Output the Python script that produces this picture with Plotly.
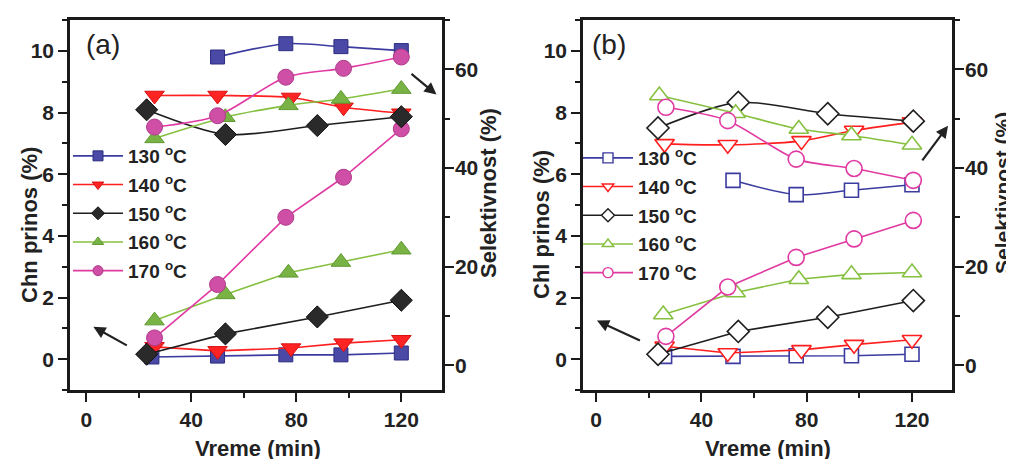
import plotly.graph_objects as go

# ---------------- data ----------------
temps = ["130", "140", "150", "160", "170"]

# Panel (a): Chn yield (left axis) and selectivity (right axis)
a_sel_x = {
    "130": [50, 76, 97, 120],
    "140": [26, 50, 78, 98, 120],
    "150": [23, 53, 88, 120],
    "160": [26, 53, 77, 97, 120],
    "170": [26, 50, 76, 98, 120],
}
a_sel = {
    "130": [62.5, 65.2, 64.6, 63.8],
    "140": [54.7, 54.7, 54.3, 52.3, 51.1],
    "150": [51.8, 46.8, 48.6, 50.4],
    "160": [46.0, 50.3, 52.7, 54.0, 56.0],
    "170": [48.3, 50.6, 58.4, 60.2, 62.5],
}
a_yld_x = {
    "130": [25, 50, 76, 97, 120],
    "140": [26, 50, 78, 98, 120],
    "150": [23, 53, 88, 120],
    "160": [26, 53, 77, 97, 120],
    "170": [26, 50, 76, 98, 120],
}
a_yld = {
    "130": [0.07, 0.1, 0.14, 0.14, 0.2],
    "140": [0.4, 0.27, 0.36, 0.52, 0.63],
    "150": [0.16, 0.82, 1.37, 1.91],
    "160": [1.25, 2.1, 2.8, 3.15, 3.55],
    "170": [0.69, 2.42, 4.6, 5.9, 7.47],
}

# Panel (b): Chl yield (left axis) and selectivity (right axis)
b_sel_x = {
    "130": [52, 76, 97, 120],
    "140": [26, 50, 78, 98, 120],
    "150": [23.5, 54, 88, 120.5],
    "160": [24, 53, 77, 97, 120],
    "170": [26.5, 50, 76, 98, 120.5],
}
b_sel = {
    "130": [37.5, 34.6, 35.5, 36.6],
    "140": [44.9, 44.7, 45.5, 47.6, 49.3],
    "150": [48.1, 53.3, 51.0, 49.5],
    "160": [54.7, 51.1, 47.9, 46.6, 44.7],
    "170": [52.3, 49.6, 41.8, 39.9, 37.5],
}
b_yld_x = {
    "130": [26, 52, 76, 97, 120],
    "140": [26, 50, 78, 98, 120],
    "150": [23.5, 54, 88, 120.5],
    "160": [25.5, 53, 77, 97, 120],
    "170": [26.5, 50, 76, 98, 120.5],
}
b_yld = {
    "130": [0.09, 0.09, 0.11, 0.11, 0.16],
    "140": [0.42, 0.2, 0.3, 0.47, 0.63],
    "150": [0.16, 0.9, 1.36, 1.9],
    "160": [1.45, 2.16, 2.59, 2.75, 2.81],
    "170": [0.74, 2.34, 3.3, 3.9, 4.5],
}

x_ticks = [0, 40, 80, 120]
yl_ticks = [0, 2, 4, 6, 8, 10]
yr_ticks = [0, 20, 40, 60]

# ---------------- styles ----------------
line_col = {"130": "#3b3ba0", "140": "#ff1f1f", "150": "#1e1e1e", "160": "#86c040", "170": "#e03aa2"}
fill_col = {"130": "#4a4aa6", "140": "#ff2424", "150": "#2a2a2a", "160": "#79b346", "170": "#cf4fa6"}
edge_col = {"130": "#2c2c80", "140": "#d81010", "150": "#111111", "160": "#5f9a30", "170": "#b03a8a"}
symbol = {"130": "square", "140": "triangle-down", "150": "diamond", "160": "triangle-up", "170": "circle"}
msize = {"130": 14, "140": 17, "150": 17, "160": 17, "170": 16}

FONT = "Liberation Sans, Arial, sans-serif"

fig = go.Figure()


def add_series(xd, yd, t, xa, ya, filled, smooth):
    if filled:
        mk = dict(symbol=symbol[t], size=msize[t], color=fill_col[t],
                  line=dict(color=edge_col[t], width=1))
    else:
        mk = dict(symbol=symbol[t], size=msize[t], color="white",
                  line=dict(color=line_col[t], width=1.6))
    fig.add_trace(go.Scatter(
        x=xd, y=yd, xaxis=xa, yaxis=ya, mode="lines+markers",
        line=dict(color=line_col[t], width=1.6,
                  shape="spline" if smooth else "linear", smoothing=0.8),
        marker=mk, showlegend=False, hoverinfo="skip"))


for t in temps:
    add_series(a_sel_x[t], a_sel[t], t, "x", "y2", True, True)
    add_series(a_yld_x[t], a_yld[t], t, "x", "y", True, False)
    add_series(b_sel_x[t], b_sel[t], t, "x2", "y4", False, True)
    add_series(b_yld_x[t], b_yld[t], t, "x2", "y3", False, False)

# legend-only entries
for t in temps:
    fig.add_trace(go.Scatter(
        x=[None], y=[None], xaxis="x", yaxis="y", mode="lines+markers",
        name=t + " <sup>o</sup>C", legend="legend", legendgroup="a" + t,
        line=dict(color=line_col[t], width=1.6),
        marker=dict(symbol=symbol[t], size=10, color=fill_col[t],
                    line=dict(color=edge_col[t], width=1))))
    fig.add_trace(go.Scatter(
        x=[None], y=[None], xaxis="x2", yaxis="y3", mode="lines+markers",
        name=t + " <sup>o</sup>C", legend="legend2", legendgroup="b" + t,
        line=dict(color=line_col[t], width=1.6),
        marker=dict(symbol=symbol[t], size=10, color="white",
                    line=dict(color=line_col[t], width=1.4))))

W, H = 1014, 459
dom_y = [1 - 382 / H, 1 - 12 / H]
dom_a = [62 / W, 434 / W]
dom_b = [575 / W, 944 / W]

tickfont = dict(family=FONT, size=21, color="#222222", weight="bold")
common = dict(showline=True, linewidth=2.5, linecolor="#1a1a1a", ticks="outside",
              ticklen=9, tickwidth=2.2, tickcolor="#1a1a1a", showgrid=False,
              zeroline=False, tickfont=tickfont)


def xax(dom, rng, anchor):
    return dict(domain=dom, range=rng, anchor=anchor, tickvals=x_ticks, mirror=True,
                minor=dict(ticks="outside", ticklen=5, tickwidth=2, tickcolor="#1a1a1a",
                           dtick=20, tick0=0, showgrid=False), **common)


def ylax(anchor):
    return dict(domain=dom_y, range=[-1, 11], anchor=anchor, tickvals=yl_ticks,
                minor=dict(ticks="outside", ticklen=5, tickwidth=2, tickcolor="#1a1a1a",
                           dtick=1, tick0=0, showgrid=False), **common)


def yrax(anchor, over):
    return dict(domain=dom_y, range=[-5, 70], anchor=anchor, overlaying=over, side="right",
                tickvals=yr_ticks, ticklabelstandoff=-3,
                minor=dict(ticks="outside", ticklen=5, tickwidth=2, tickcolor="#1a1a1a",
                           dtick=10, tick0=0, showgrid=False), **common)


legfont = dict(family=FONT, size=19, color="#222222", weight="bold")
fig.update_layout(
    width=W, height=H, margin=dict(l=0, r=0, t=0, b=0, autoexpand=False),
    paper_bgcolor="white", plot_bgcolor="white",
    xaxis=xax(dom_a, [-6.2, 135.5], "y"),
    yaxis=ylax("x"),
    yaxis2=yrax("x", "y"),
    xaxis2=xax(dom_b, [-5, 135.2], "y3"),
    yaxis3=ylax("x2"),
    yaxis4=yrax("x2", "y3"),
    legend=dict(x=60 / W, y=1 - 129 / H, xanchor="left", yanchor="top",
                bgcolor="rgba(0,0,0,0)", font=legfont, itemwidth=50, tracegroupgap=1),
    legend2=dict(x=570 / W, y=1 - 131 / H, xanchor="left", yanchor="top",
                 bgcolor="rgba(0,0,0,0)", font=legfont, itemwidth=50, tracegroupgap=1),
)

titlefont = dict(family=FONT, size=22, color="#222222", weight="bold")
ann = [
    dict(text="(a)", x=76 / W, y=1 - 37 / H, xanchor="left", yanchor="middle",
         font=dict(family=FONT, size=28, color="#222222")),
    dict(text="(b)", x=582 / W, y=1 - 37 / H, xanchor="left", yanchor="middle",
         font=dict(family=FONT, size=28, color="#222222")),
    dict(text="Chn prinos (%)", x=21 / W, y=1 - 217 / H, textangle=-90, font=titlefont),
    dict(text="Selektivnost (%)", x=480 / W, y=1 - 185 / H, textangle=-90, font=titlefont),
    dict(text="Vreme (min)", x=250 / W, y=1 - 440 / H, font=titlefont),
    dict(text="Chl prinos (%)", x=533 / W, y=1 - 217 / H, textangle=-90, font=titlefont),
    dict(text="Selektivnost (%)", x=994 / W, y=1 - 185 / H, textangle=-90,
         font=dict(family=FONT, size=21, color="#222222", weight="bold")),
    dict(text="Vreme (min)", x=760 / W, y=1 - 440 / H, font=titlefont),
]
for a in ann:
    a.update(xref="paper", yref="paper", showarrow=False)
    if "xanchor" not in a:
        a.update(xanchor="center", yanchor="middle")
    fig.add_annotation(**a)

# arrows (data coordinates of the left-hand axes)
arrows = [
    ("x", "y", 2.7, 1.05, 16, 0.42),
    ("x", "y", 133.4, 8.58, 123.3, 9.29),
    ("x2", "y3", 0.3, 1.25, 17.2, 0.58),
    ("x2", "y3", 133.7, 7.57, 123.5, 6.4),
]
for xr, yr, hx, hy, tx, ty in arrows:
    fig.add_annotation(x=hx, y=hy, ax=tx, ay=ty, xref=xr, yref=yr, axref=xr, ayref=yr,
                       showarrow=True, arrowhead=2, arrowsize=1.1, arrowwidth=2.2,
                       arrowcolor="#222222", text="")

fig.write_html("out.html")
